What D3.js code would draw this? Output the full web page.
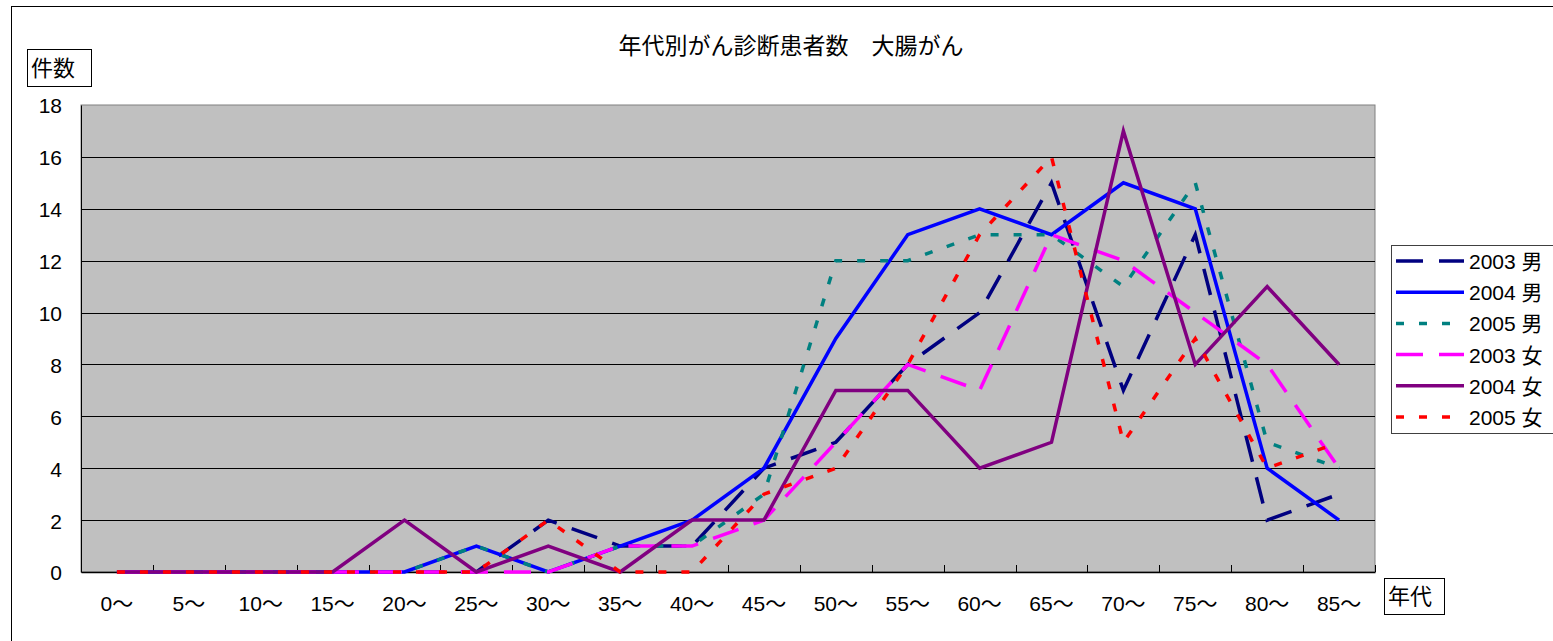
<!DOCTYPE html>
<html><head><meta charset="utf-8">
<script src="https://cdn.jsdelivr.net/npm/d3@7"></script>
<style>
body{margin:0;background:#fff;}
text{font-family:"Liberation Sans","Noto Sans CJK JP",sans-serif;fill:#000;}
</style></head>
<body><svg id="c" width="1553" height="641"></svg>
<script>
const categories = ["0～","5～","10～","15～","20～","25～","30～","35～","40～","45～","50～","55～","60～","65～","70～","75～","80～","85～"];
const yTicks = [0,2,4,6,8,10,12,14,16,18];
const seriesNames = ["2003 男","2004 男","2005 男","2003 女","2004 女","2005 女"];
const m2003 = [0,0,0,0,0,0,2,1,1,4,5,8,10,15,7,13,2,3];
const m2004 = [0,0,0,0,0,1,0,1,2,4,9,13,14,13,15,14,4,2];
const m2005 = [0,0,0,0,0,1,0,1,1,3,12,12,13,13,11,15,5,4];
const f2003 = [0,0,0,0,0,0,0,1,1,2,5,8,7,13,12,10,8,4];
const f2004 = [0,0,0,0,2,0,1,0,2,2,7,7,4,5,17,8,11,8];
const f2005 = [0,0,0,0,0,0,2,0,0,3,4,8,13,16,5,9,4,5];
const title = "年代別がん診断患者数　大腸がん";
const yTitle = "件数", xTitle = "年代";

const styles = [
  {color:"#000080", dash:"27,16"},
  {color:"#0000FF", dash:null},
  {color:"#008080", dash:"8,15"},
  {color:"#FF00FF", dash:"27,16"},
  {color:"#800080", dash:null},
  {color:"#FF0000", dash:"8,15"}
];
const data = [m2003,m2004,m2005,f2003,f2004,f2005];
const FONT = '"Liberation Sans","Noto Sans CJK JP",sans-serif';

const svg = d3.select("#c");
const L=81, R=1375, T=105, B=572;

// outer chart border
svg.append("rect").attr("x",11.5).attr("y",6.5).attr("width",1600).attr("height",700)
  .attr("fill","#fff").attr("stroke","#000").attr("stroke-width",1);

const x = d3.scaleBand().domain(categories).range([L,R]).padding(0);
const y = d3.scaleLinear().domain([0,18]).range([B,T]);

// plot area
svg.append("rect").attr("x",L).attr("y",T).attr("width",R-L).attr("height",B-T)
  .attr("fill","#C0C0C0").attr("stroke","#808080").attr("stroke-width",1);

// gridlines
svg.append("g").selectAll("line").data(yTicks.filter(d=>d>0 && d<18)).join("line")
  .attr("x1",L).attr("x2",R).attr("y1",d=>Math.round(y(d))+0.5).attr("y2",d=>Math.round(y(d))+0.5)
  .attr("stroke","#000").attr("stroke-width",1);

// x axis (ticks inward)
const xAxis = d3.axisBottom(x).tickSize(0).tickPadding(0).tickFormat(d=>d);
const gx = svg.append("g").attr("transform",`translate(0,${B})`).call(xAxis);
gx.select(".domain").attr("stroke","#000").attr("stroke-width",1.5);
gx.selectAll("text").attr("font-size","21px").attr("y",39).attr("dy",0).attr("fill","#000")
  .style("font-family",FONT);
// boundary ticks
const bounds = categories.map(c=>x(c)).slice(1).concat([R]);
svg.append("g").selectAll("line").data(bounds).join("line")
  .attr("x1",d=>Math.round(d)+0.5).attr("x2",d=>Math.round(d)+0.5).attr("y1",B).attr("y2",B-7)
  .attr("stroke","#000").attr("stroke-width",1);

// y axis
const yAxis = d3.axisLeft(y).tickValues(yTicks).tickSize(0).tickPadding(19);
const gy = svg.append("g").attr("transform",`translate(${L},0)`).call(yAxis);
gy.select(".domain").attr("stroke","#000").attr("stroke-width",1);
gy.selectAll("text").attr("font-size","21px").attr("dy","0.38em").attr("fill","#000")
  .style("font-family",FONT);

// lines
const line = d3.line().x((d,i)=>x(categories[i])+x.bandwidth()/2).y(d=>y(d));
data.forEach((s,k)=>{
  svg.append("path").datum(s).attr("d",line).attr("fill","none")
    .attr("stroke",styles[k].color).attr("stroke-width",3.5)
    .attr("stroke-dasharray",styles[k].dash).attr("stroke-linejoin","miter");
});

// title
svg.append("text").attr("x",791).attr("y",54).attr("text-anchor","middle")
  .attr("font-size","23px").text(title);

// axis title boxes
svg.append("rect").attr("x",27.5).attr("y",49.5).attr("width",64).attr("height",37)
  .attr("fill","#fff").attr("stroke","#000");
svg.append("text").attr("x",31).attr("y",76).attr("font-size","22px").text(yTitle);
svg.append("rect").attr("x",1384.5).attr("y",578.5).attr("width",60).attr("height",36)
  .attr("fill","#fff").attr("stroke","#000");
svg.append("text").attr("x",1388).attr("y",604).attr("font-size","22px").text(xTitle);

// legend
svg.append("rect").attr("x",1391.5).attr("y",245.5).attr("width",200).attr("height",188)
  .attr("fill","#fff").attr("stroke","#404040");
const lg = svg.append("g").selectAll("g").data(seriesNames).join("g")
  .attr("transform",(d,i)=>`translate(0,${261+i*31.2})`);
lg.append("line").attr("x1",1396).attr("x2",1464).attr("y1",0).attr("y2",0)
  .attr("stroke",(d,i)=>styles[i].color).attr("stroke-width",3.5)
  .attr("stroke-dasharray",(d,i)=>styles[i].dash);
lg.append("text").attr("x",1469).attr("y",0).attr("dy","0.38em").attr("font-size","21px").text(d=>d);
</script></body></html>
